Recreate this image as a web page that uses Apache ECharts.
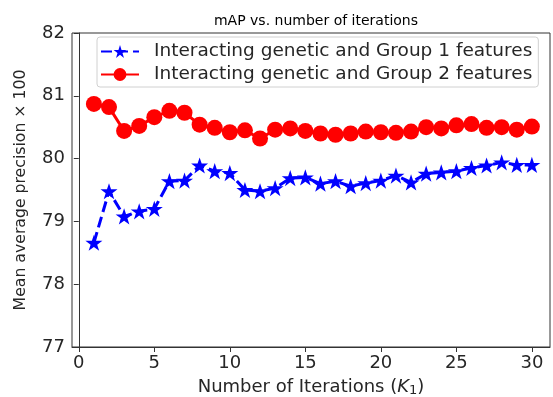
<!DOCTYPE html>
<html>
<head>
<meta charset="utf-8">
<script src="https://cdn.jsdelivr.net/npm/echarts@6/dist/echarts.min.js"></script>
<style>
  html, body { margin: 0; padding: 0; background: #fff; }
  #chart { width: 553px; height: 397px; }
</style>
</head>
<body>
<div id="chart"></div>
<script>
const iterations = [1,2,3,4,5,6,7,8,9,10,11,12,13,14,15,16,17,18,19,20,21,22,23,24,25,26,27,28,29,30];
const group1 = [78.66,79.48,79.08,79.16,79.20,79.64,79.65,79.89,79.80,79.77,
                79.50,79.48,79.53,79.69,79.70,79.60,79.64,79.56,79.61,79.65,
                79.73,79.62,79.76,79.78,79.80,79.85,79.89,79.94,79.90,79.90];
const group2 = [80.87,80.82,80.44,80.52,80.66,80.76,80.73,80.54,80.49,80.42,
                80.45,80.32,80.46,80.48,80.44,80.40,80.38,80.40,80.43,80.42,
                80.41,80.43,80.50,80.48,80.53,80.55,80.49,80.50,80.46,80.51];
const xTicks = [0,5,10,15,20,25,30];
const seriesNames = ['Interacting genetic and Group 1 features', 'Interacting genetic and Group 2 features'];

const font = 'DejaVu Sans';
const textColor = '#262626';

function pairs(ys){
  return iterations.map((x, i) => [x, ys[i]]);
}

const chart = echarts.init(document.getElementById('chart'), null, { renderer: 'canvas' });
chart.setOption({
  animation: false,
  textStyle: { fontFamily: font },
  title: {
    text: 'mAP vs. number of iterations',
    left: 311, top: 9, textAlign: 'center',
    textStyle: { fontFamily: font, fontSize: 14, fontWeight: 'normal', color: '#000' }
  },
  grid: {
    left: 72, right: 3, top: 33, bottom: 50,
    outerBoundsMode: 'none', containLabel: false,
    show: true, borderColor: '#333', borderWidth: 1, backgroundColor: 'transparent'
  },
  legend: {
    orient: 'vertical',
    left: 97, top: 37,
    itemWidth: 38, itemHeight: 16, itemGap: 4,
    padding: [5, 6, 3, 3],
    borderColor: '#d0d0d0', borderWidth: 1, borderRadius: 3,
    backgroundColor: 'rgba(255,255,255,0.8)',
    textStyle: { fontFamily: font, fontSize: 18.5, color: textColor, padding: [0, 0, 0, 10] },
    data: seriesNames
  },
  xAxis: {
    type: 'value', min: -0.45, max: 31.2,
    name: '{n|Number of Iterations (}{k|K}{s|1}{n|)}', nameLocation: 'middle', nameGap: 30,
    nameTextStyle: {
      rich: {
        n: { fontFamily: font, fontSize: 18, color: textColor },
        k: { fontFamily: font, fontSize: 18, color: textColor, fontStyle: 'italic' },
        s: { fontFamily: font, fontSize: 13, color: textColor, verticalAlign: 'bottom', padding: [7, 0, 0, 0] }
      }
    },
    axisLine: { show: true, lineStyle: { color: '#333', width: 1 } },
    axisTick: { show: true, inside: false, length: 5, lineStyle: { color: '#333' }, customValues: xTicks },
    axisLabel: { fontFamily: font, fontSize: 18, color: textColor, margin: 7, customValues: xTicks },
    splitLine: { show: false }
  },
  yAxis: {
    type: 'value', min: 77, max: 82, interval: 1,
    name: 'Mean average precision × 100', nameLocation: 'middle', nameGap: 43,
    nameTextStyle: { fontFamily: font, fontSize: 15.7, color: textColor },
    axisLine: { show: true, lineStyle: { color: '#333', width: 1 } },
    axisTick: { show: true, inside: false, length: 5, lineStyle: { color: '#333' } },
    axisLabel: { fontFamily: font, fontSize: 18, color: textColor, margin: 7 },
    splitLine: { show: false }
  },
  series: [
    {
      name: seriesNames[0], type: 'line', data: pairs(group1),
      symbol: 'path://M50,0 L61.8,35.6 L99,35.6 L69,57.6 L80.4,93.4 L50,71.2 L19.6,93.4 L31,57.6 L1,35.6 L38.2,35.6 Z',
      symbolSize: 17, symbolKeepAspect: true,
      itemStyle: { color: '#0000ff' },
      lineStyle: { color: '#0000ff', width: 3, type: [11, 5] },
      z: 3
    },
    {
      name: seriesNames[1], type: 'line', data: pairs(group2),
      symbol: 'circle', symbolSize: 16,
      itemStyle: { color: '#ff0000' },
      lineStyle: { color: '#ff0000', width: 3 },
      z: 2
    }
  ]
});
</script>
</body>
</html>
